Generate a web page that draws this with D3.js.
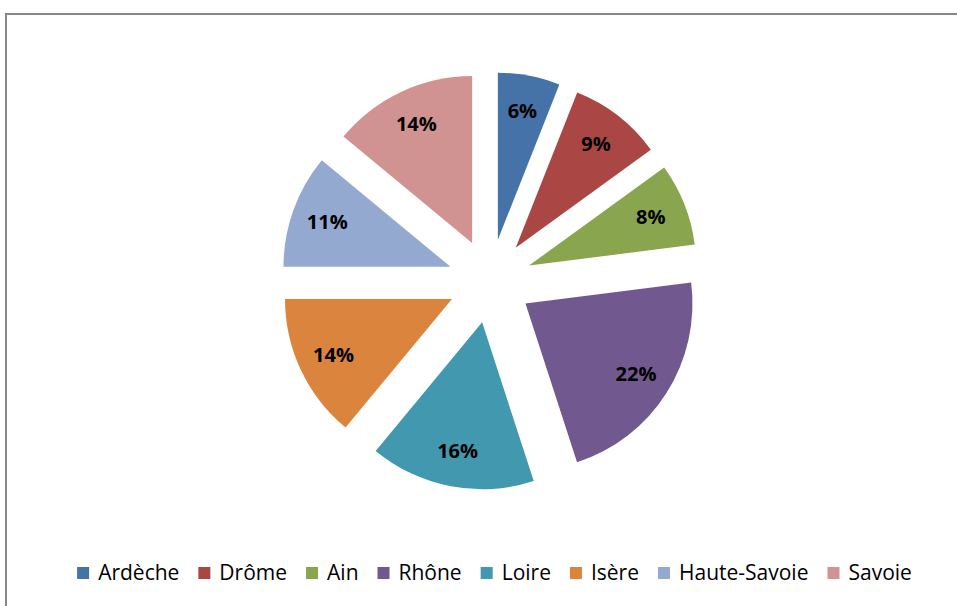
<!DOCTYPE html>
<html>
<head>
<meta charset="utf-8">
<script src="https://cdn.jsdelivr.net/npm/d3@7"></script>
<style>
  body { margin: 0; background: #fff; }
  svg { display: block; }
</style>
</head>
<body>
<svg id="chart"></svg>
<script>
const width = 957;
const height = 606;

// data
const departements = ['Ardèche', 'Drôme', 'Ain', 'Rhône', 'Loire', 'Isère', 'Haute-Savoie', 'Savoie'];
const parts = [6, 9, 8, 22, 16, 14, 11, 14];
const couleurs = ['#4572A7', '#AA4643', '#89A54E', '#71588F', '#4198AF', '#DB843D', '#93A9CF', '#D19392'];

const svg = d3.select('#chart')
    .attr('width', width)
    .attr('height', height);

// cadre gris
svg.append('rect')
    .attr('x', 6).attr('y', 14)
    .attr('width', 960).attr('height', 600)
    .attr('fill', 'white')
    .attr('stroke', '#868686')
    .attr('stroke-width', 2);

const cx = 490, cy = 281;
const radius = 167;
const explode = 42;
const labelR = 131;

const color = d3.scaleOrdinal().domain(departements).range(couleurs);
const total = d3.sum(parts);

const pie = d3.pie().sort(null).value(d => d.v);
const arc = d3.arc().innerRadius(0).outerRadius(radius);

const data = departements.map((n, i) => ({name: n, v: parts[i]}));
const arcs = pie(data);

const g = svg.append('g').attr('transform', `translate(${cx},${cy})`);

const slice = g.selectAll('g.slice')
    .data(arcs)
    .enter()
    .append('g')
    .attr('class', 'slice')
    .attr('transform', function(d) {
        const a = (d.startAngle + d.endAngle) / 2;
        return `translate(${explode * Math.sin(a)},${-explode * Math.cos(a)})`;
    });

slice.append('path')
    .attr('d', arc)
    .attr('fill', d => color(d.data.name));

slice.append('text')
    .attr('x', function(d) { return labelR * Math.sin((d.startAngle + d.endAngle) / 2); })
    .attr('y', function(d) { return -labelR * Math.cos((d.startAngle + d.endAngle) / 2); })
    .attr('dy', '0.35em')
    .attr('text-anchor', 'middle')
    .attr('font-family', '"Open Sans", "Liberation Sans", sans-serif')
    .attr('font-weight', 'bold')
    .attr('font-size', 20)
    .attr('fill', '#000')
    .text(d => Math.round(d.data.v / total * 100) + '%');

// légende
const legend = svg.append('g');
const legY = 573;
let x = 0;
departements.forEach(function(n, i) {
    const item = legend.append('g').attr('transform', `translate(${x},0)`);
    item.append('rect')
        .attr('x', 0).attr('y', legY - 6)
        .attr('width', 12).attr('height', 12)
        .attr('fill', color(n));
    const t = item.append('text')
        .attr('x', 21).attr('y', legY)
        .attr('dy', '0.35em')
        .attr('font-family', '"Open Sans", "Liberation Sans", sans-serif')
        .attr('font-size', 21)
        .attr('fill', '#000')
        .text(n);
    x += 21 + t.node().getComputedTextLength() + 19;
});
const legW = x - 19;
legend.attr('transform', `translate(${494.5 - legW / 2},0)`);
</script>
</body>
</html>
